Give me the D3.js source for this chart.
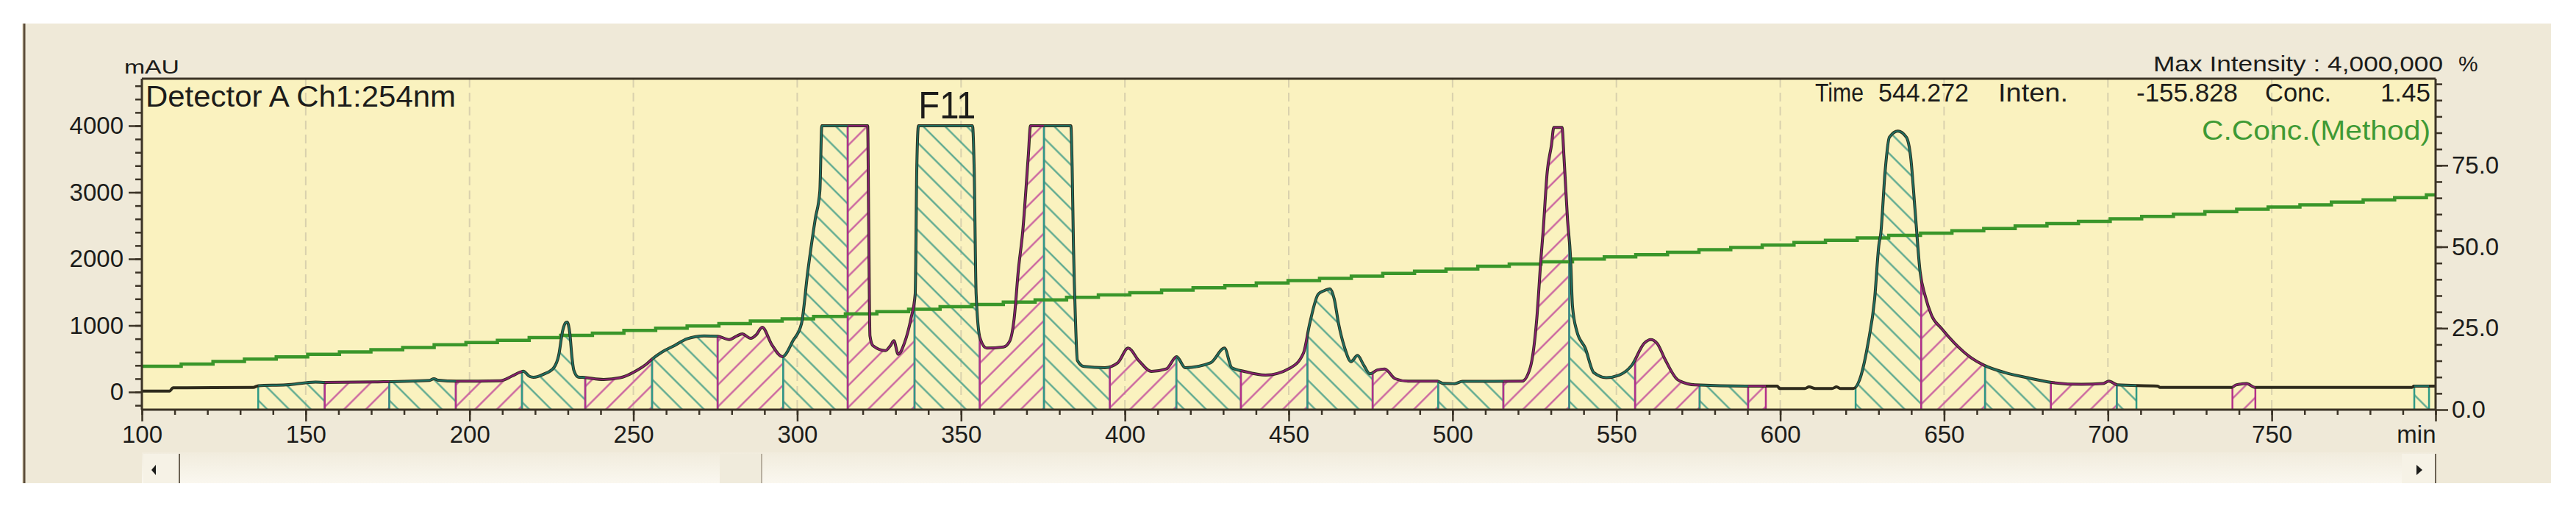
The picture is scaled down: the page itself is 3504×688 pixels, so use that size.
<!DOCTYPE html>
<html lang="en">
<head>
<meta charset="utf-8">
<title>Chromatogram Ch1 254nm</title>
<script src="https://cdn.jsdelivr.net/npm/d3@7"></script>
<style>
  body { margin: 0; background: #ffffff; }
  text { font-family: "Liberation Sans", Arial, sans-serif; fill: #1c1c1a; }
</style>
</head>
<body>
<script>
// detector trace: retention time (min) / signal (mAU)
const traceTime = [100, 108.5, 109.5, 134.0, 135.5, 144.0, 153.0, 156.0, 172.0, 187.8, 189.1, 190.5, 196.0,
  209.3, 213.0, 215.5, 216.4, 218.3, 219.5, 222.8, 225.7, 227.2, 228.4, 229.3, 229.8, 230.6, 231.3, 231.8,
  233.2, 235.1, 240.9, 246.0, 251.2, 254.0, 255.7, 258.7, 262.6, 266.4, 271.6, 275.8, 279.3, 281.5, 283.2,
  285.8, 287.5, 289.3, 292.2, 295.5, 298.7, 301.3, 303.2, 305.5, 306.9, 307.5, 321.5, 321.8, 322.2, 323.1,
  326.9, 328.5, 329.5, 330.8, 332.7, 334.7, 336.0, 336.5, 337.0, 353.5, 354.0, 354.6, 355.8, 357.8, 363.0,
  364.9, 366.2, 367.5, 368.8, 370.5, 371.2, 383.5, 383.9, 384.3, 384.9, 385.5, 387.5, 393.9, 397.8, 401.0,
  404.2, 408.1, 412.6, 415.8, 418.4, 426.1, 430.4, 432.6, 436.4, 442.9, 450.6, 454.5, 456.4, 459.0, 460.7,
  462.6, 463.9, 465.2, 467.1, 469.0, 471.0, 472.9, 474.8, 477.0, 479.3, 482.5, 486.4, 495.4, 497.0, 500.6,
  503.0, 521.2, 523.7, 525.7, 527.0, 527.6, 528.9, 530.2, 530.9, 533.4, 534.0, 535.1, 536.0, 536.6, 537.9,
  540.5, 543.1, 546.9, 550.8, 554.7, 558.5, 560.5, 562.4, 565.0, 568.8, 574.0, 589.4, 599.1, 599.8, 607.5,
  608.8, 610.7, 615.8, 617.2, 618.4, 622.3, 624.2, 626.8, 628.8, 630.1, 630.7, 632.0, 633.3, 635.9, 638.5,
  639.8, 641.1, 642.7, 644.2, 646.2, 649.2, 653.2, 658.3, 662.2, 668.6, 675.1, 682.8, 691.9, 698.4, 700.3,
  702.9, 715.2, 715.8, 737.8, 739.1, 742.3, 744.9, 792.8, 793.4, 797.9, 800.0];
const traceSignal = [15, 15, 63, 68, 95, 107, 150, 145, 152, 175, 200, 176, 163,
  170, 240, 300, 312, 235, 222, 272, 365, 550, 917, 1040, 1050, 880, 500, 330,
  225, 218, 188, 215, 328, 420, 494, 600, 700, 800, 843, 836, 788, 840, 873,
  807, 860, 973, 715, 531, 770, 1028, 1800, 2600, 3017, 4000, 4000, 2600, 844, 696,
  622, 700, 770, 567, 733, 1101, 1470, 3386, 4000, 4000, 3349, 1470, 807, 659, 678,
  770, 1101, 1838, 2400, 3533, 4000, 4000, 3386, 2206, 1101, 475, 383, 365, 438, 659,
  475, 310, 346, 530, 365, 438, 659, 365, 310, 254, 365, 586, 1028, 1470, 1520,
  1550, 1396, 1028, 659, 457, 549, 402, 273, 330, 346, 199, 162, 162, 130, 125,
  160, 162, 365, 1101, 2022, 2391, 3312, 3717, 3975, 3975, 3533, 2575, 2022, 1286, 917,
  659, 291, 217, 254, 402, 733, 788, 733, 475, 181, 107, 89, 89, 52, 52,
  78, 52, 52, 78, 52, 52, 181, 733, 1396, 2206, 2391, 3312, 3827, 3920, 3827,
  3533, 2759, 1800, 1450, 1150, 955, 734, 513, 402, 292, 218, 144, 115, 126, 163,
  107, 89, 70, 70, 107, 126, 70, 70, 89, 89, 89];

// C.Conc.(Method) gradient, % (staircase as drawn)
const gradTime = [100, 112.0, 121.7, 131.3, 141.0, 150.6, 160.3, 169.9, 179.6, 189.2, 198.9,
  208.5, 218.2, 227.8, 237.5, 247.1, 256.8, 266.4, 276.1, 285.7, 295.4,
  305.0, 314.7, 324.3, 334.0, 343.6, 353.3, 362.9, 372.6, 382.2, 391.9,
  401.5, 411.2, 420.8, 430.5, 440.1, 449.8, 459.4, 469.1, 478.7, 488.4,
  498.0, 507.7, 517.3, 527.0, 536.6, 546.3, 555.9, 565.6, 575.2, 584.9,
  594.5, 604.2, 613.8, 623.5, 633.1, 642.8, 652.4, 662.1, 671.7, 681.4,
  691.0, 700.7, 710.3, 720.0, 729.6, 739.3, 748.9, 758.6, 768.2, 777.9,
  787.5, 797.2];
const gradConc = [13.3, 14.0, 14.8, 15.5, 16.2, 17.0, 17.7, 18.4, 19.1, 19.9,
  20.6, 21.3, 22.1, 22.8, 23.5, 24.3, 25.0, 25.7, 26.4, 27.2,
  27.9, 28.6, 29.4, 30.1, 30.8, 31.6, 32.3, 33.0, 33.7, 34.5,
  35.2, 35.9, 36.7, 37.4, 38.1, 38.9, 39.6, 40.3, 41.0, 41.8,
  42.5, 43.2, 44.0, 44.7, 45.4, 46.2, 46.9, 47.6, 48.3, 49.1,
  49.8, 50.5, 51.3, 52.0, 52.7, 53.5, 54.2, 54.9, 55.6, 56.4,
  57.1, 57.8, 58.6, 59.3, 60.0, 60.8, 61.5, 62.2, 62.9, 63.7,
  64.4, 65.1, 65.9];

// collected fractions F1..F31 (min)
const fracStart = [135.5, 155.8, 175.5, 195.8, 216.0, 235.3, 255.7, 275.7, 295.7, 315.4, 335.8, 355.7,
  375.3, 395.4, 415.7, 435.4, 455.7, 475.6, 495.6, 515.5, 535.6, 555.7, 575.4, 590.2,
  623.0, 643.0, 662.5, 682.6, 702.7, 738.0, 793.5];
const fracEnd = [155.8, 175.5, 195.8, 216.0, 235.3, 255.7, 275.7, 295.7, 315.4, 335.8, 355.7, 375.3,
  395.4, 415.7, 435.4, 455.7, 475.6, 495.6, 515.5, 535.6, 555.7, 575.4, 590.2, 595.6,
  643.0, 662.5, 682.6, 702.7, 708.7, 745.0, 798.0];
const labeledFraction = 10; // F11

const xTicks = [100, 150, 200, 250, 300, 350, 400, 450, 500, 550, 600, 650, 700, 750, 800];
const xTickLabels = ["100", "150", "200", "250", "300", "350", "400", "450", "500", "550", "600", "650", "700", "750", "min"];
const yTicks = [0, 1000, 2000, 3000, 4000];
const rTicks = [0, 25, 50, 75];
const rTickLabels = ["0.0", "25.0", "50.0", "75.0"];

const W = 3504, H = 688;
const plot = { left: 193, right: 3313, top: 107, bottom: 557 };
const axisColor = "#3b3326";
const teal = "#2f9a86", magenta = "#b3308a";

const trace = traceTime.map((t, i) => ({ t: t, v: traceSignal[i] }));
const grad = gradTime.map((t, i) => ({ t: t, c: gradConc[i] }));
grad.push({ t: 800, c: gradConc[gradConc.length - 1] });
const fractions = fracStart.map((s, i) => ({ s: s, e: fracEnd[i], i: i }));

const svg = d3.select("body").append("svg").attr("width", W).attr("height", H);

// scales
const x = d3.scaleLinear().domain([100, 800]).range([plot.left, plot.right]);
const y = d3.scaleLinear().domain([-265, 4707]).range([plot.bottom, plot.top]);
const yR = d3.scaleLinear().domain([0, 101.6]).range([plot.bottom, plot.top]);

// window panel
const defs = svg.append("defs");
const sg = defs.append("linearGradient").attr("id", "scroll").attr("x1", 0).attr("y1", 0).attr("x2", 0).attr("y2", 1);
sg.append("stop").attr("offset", 0).attr("stop-color", "#f1ecdd");
sg.append("stop").attr("offset", 1).attr("stop-color", "#faf7ef");

svg.append("rect").attr("x", 30).attr("y", 32).attr("width", 3440).attr("height", 625).attr("fill", "#efe9d8");
svg.append("line").attr("x1", 33).attr("x2", 33).attr("y1", 32).attr("y2", 657)
  .attr("stroke", "#5b4c38").attr("stroke-width", 3);

// plot background
svg.append("rect").attr("x", plot.left).attr("y", plot.top)
  .attr("width", plot.right - plot.left).attr("height", plot.bottom - plot.top).attr("fill", "#faf2bf");

// grid
svg.append("g").selectAll("line").data(xTicks.slice(1, -1)).join("line")
  .attr("x1", d => x(d)).attr("x2", d => x(d))
  .attr("y1", plot.top).attr("y2", plot.bottom)
  .attr("stroke", "#d9d1ad").attr("stroke-width", 2).attr("stroke-dasharray", "12,7");

// hatch patterns
function hatch(id, color, angle) {
  defs.append("pattern").attr("id", id).attr("patternUnits", "userSpaceOnUse")
    .attr("width", 21).attr("height", 21)
    .attr("patternTransform", `rotate(${angle})`)
    .append("line").attr("x1", 10.5).attr("y1", -2).attr("x2", 10.5).attr("y2", 23)
    .attr("stroke", color).attr("stroke-width", 2.2);
}
hatch("hatch-teal", "#4fa38c", -45);
hatch("hatch-mag", "#c6579c", 45);

defs.append("clipPath").attr("id", "plotclip").append("rect")
  .attr("x", plot.left).attr("y", plot.top)
  .attr("width", plot.right - plot.left).attr("height", plot.bottom - plot.top);

fractions.forEach(f => {
  defs.append("clipPath").attr("id", "frac" + f.i).append("rect")
    .attr("x", x(f.s)).attr("y", plot.top)
    .attr("width", x(f.e) - x(f.s)).attr("height", plot.bottom - plot.top);
});

const area = d3.area().curve(d3.curveMonotoneX)
  .x(d => x(d.t)).y0(plot.bottom).y1(d => y(d.v));
const line = d3.line().curve(d3.curveMonotoneX)
  .x(d => x(d.t)).y(d => y(d.v));

defs.append("clipPath").attr("id", "under").append("path").attr("d", area(trace));

const colorOf = f => f.i % 2 === 0 ? teal : magenta;
const container = svg.append("g").attr("clip-path", "url(#plotclip)");

// hatched fractions
container.append("g").selectAll("path").data(fractions).join("path")
  .attr("clip-path", f => `url(#frac${f.i})`)
  .attr("d", area(trace))
  .attr("fill", f => f.i % 2 === 0 ? "url(#hatch-teal)" : "url(#hatch-mag)");

// fraction drop lines
const drops = container.append("g").attr("clip-path", "url(#under)");
fractions.forEach(f => {
  [f.s, f.e].forEach(t => {
    drops.append("line").attr("x1", x(t)).attr("x2", x(t))
      .attr("y1", plot.top).attr("y2", plot.bottom)
      .attr("stroke", colorOf(f)).attr("stroke-width", 2.5);
  });
});

// gradient line
container.append("path").datum(grad)
  .attr("d", d3.line().curve(d3.curveStepAfter).x(d => x(d.t)).y(d => yR(d.c)))
  .attr("fill", "none").attr("stroke", "#3a962a").attr("stroke-width", 4.5);

// trace
container.append("path").datum(trace).attr("d", line)
  .attr("fill", "none").attr("stroke", "#2e2b1c").attr("stroke-width", 4)
  .attr("stroke-linejoin", "round");
container.append("g").selectAll("path").data(fractions).join("path")
  .attr("clip-path", f => `url(#frac${f.i})`)
  .attr("d", line(trace))
  .attr("fill", "none").attr("stroke", f => f.i % 2 === 0 ? "#1f6f60" : "#86206e")
  .attr("stroke-width", 2.2).attr("stroke-linejoin", "round");

// plot frame
const frame = svg.append("g").attr("stroke", axisColor).attr("stroke-width", 3);
frame.append("line").attr("x1", plot.left).attr("x2", plot.right).attr("y1", plot.top).attr("y2", plot.top);
frame.append("line").attr("x1", plot.left).attr("x2", plot.right).attr("y1", plot.bottom).attr("y2", plot.bottom);
frame.append("line").attr("x1", plot.left).attr("x2", plot.left).attr("y1", plot.top).attr("y2", plot.bottom);
frame.append("line").attr("x1", plot.right).attr("x2", plot.right).attr("y1", plot.top).attr("y2", plot.bottom);

function styleAxis(g) {
  g.select(".domain").remove();
  g.selectAll("line").attr("stroke", axisColor).attr("stroke-width", 2.5);
  g.selectAll("text").attr("font-size", 33).attr("fill", "#1c1c1a")
    .attr("font-family", "'Liberation Sans', Arial, sans-serif");
}

// x axis
svg.append("g").attr("transform", `translate(0,${plot.bottom})`)
  .call(d3.axisBottom(x).tickValues(d3.range(100, 801, 10)).tickSize(7).tickFormat(""))
  .call(styleAxis);
svg.append("g").attr("transform", `translate(0,${plot.bottom})`)
  .call(d3.axisBottom(x).tickValues(xTicks).tickSize(16).tickPadding(6)
    .tickFormat((d, i) => xTickLabels[i]))
  .call(styleAxis)
  .call(g => g.select(".tick:last-of-type text").attr("text-anchor", "end"));

// left axis
svg.append("g").attr("transform", `translate(${plot.left},0)`)
  .call(d3.axisLeft(y).tickValues(d3.range(-200, 4700, 200)).tickSize(9).tickFormat(""))
  .call(styleAxis);
svg.append("g").attr("transform", `translate(${plot.left},0)`)
  .call(d3.axisLeft(y).tickValues(yTicks).tickSize(18).tickPadding(7).tickFormat(d => d))
  .call(styleAxis);

// right axis
svg.append("g").attr("transform", `translate(${plot.right},0)`)
  .call(d3.axisRight(yR).tickValues(d3.range(5, 101, 5)).tickSize(9).tickFormat(""))
  .call(styleAxis);
svg.append("g").attr("transform", `translate(${plot.right},0)`)
  .call(d3.axisRight(yR).tickValues(rTicks).tickSize(17).tickPadding(5)
    .tickFormat((d, i) => rTickLabels[i]))
  .call(styleAxis);

// texts
function label(txt, px, py, size, opts = {}) {
  const t = svg.append("text").text(txt).attr("x", px).attr("y", py)
    .attr("font-size", size).attr("text-anchor", opts.anchor || "start");
  if (opts.len) t.attr("textLength", opts.len).attr("lengthAdjust", "spacingAndGlyphs");
  if (opts.fill) t.style("fill", opts.fill);
  return t;
}
label("mAU", 169, 100, 26, { len: 75 });
label("Detector A Ch1:254nm", 198, 145, 40, { len: 422 });
label("Max Intensity : 4,000,000", 2929, 97, 30, { len: 394 });
label("%", 3344, 97, 30);
label("Time", 2469, 138, 35, { len: 66 });
label("544.272", 2555, 138, 35, { len: 123 });
label("Inten.", 2718, 138, 35, { len: 95 });
label("-155.828", 3044, 138, 35, { anchor: "end", len: 138 });
label("Conc.", 3081, 138, 35, { len: 90 });
label("1.45", 3306, 138, 35, { anchor: "end" });
label("C.Conc.(Method)", 3306, 190, 36, { anchor: "end", len: 311, fill: "#3f9a35" });

const lf = fractions[labeledFraction];
label("F" + (labeledFraction + 1), x((lf.s + lf.e) / 2), y(4000) - 10, 52, { anchor: "middle", len: 78 });

// scroll bar
const sb = svg.append("g");
sb.append("rect").attr("x", plot.left).attr("y", 615).attr("width", plot.right - plot.left).attr("height", 42)
  .attr("fill", "url(#scroll)");
sb.append("rect").attr("x", 195).attr("y", 617).attr("width", 49).attr("height", 40).attr("fill", "#f6f2e6");
sb.append("rect").attr("x", 979).attr("y", 617).attr("width", 56).attr("height", 40).attr("fill", "#f0ebdc");
sb.append("rect").attr("x", 3267).attr("y", 617).attr("width", 45).attr("height", 40).attr("fill", "#f6f2e6");
[244, 3313].forEach(px => sb.append("line").attr("x1", px).attr("x2", px)
  .attr("y1", 617).attr("y2", 657).attr("stroke", "#6b6254").attr("stroke-width", 2));
sb.append("line").attr("x1", 1036).attr("x2", 1036).attr("y1", 617).attr("y2", 657)
  .attr("stroke", "#a39a88").attr("stroke-width", 1.5);
sb.append("path").attr("d", "M212,632 L206,639 L212,646 Z").attr("fill", "#1c1c1a");
sb.append("path").attr("d", "M3287,632 L3295,639 L3287,646 Z").attr("fill", "#1c1c1a");
</script>
</body>
</html>
